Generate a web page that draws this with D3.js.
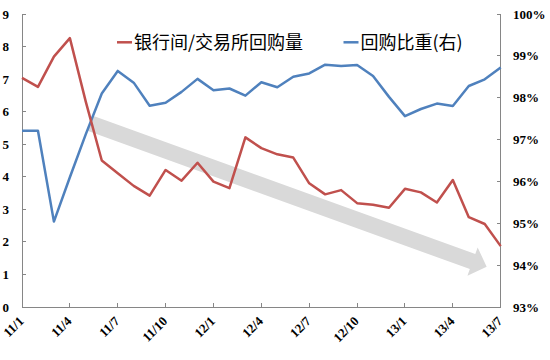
<!DOCTYPE html>
<html>
<head>
<meta charset="utf-8">
<script src="https://cdn.jsdelivr.net/npm/d3@7"></script>
<style>
    body { margin: 0; background: #fff; }
    svg { display: block; }
</style>
</head>
<body>
<svg id="chart" width="550" height="360"></svg>
<script>
// monthly categories, 2011/1 .. 2013/7
const categories = [
    "11/1", "11/2", "11/3", "11/4", "11/5", "11/6", "11/7", "11/8", "11/9", "11/10", "11/11", "11/12",
    "12/1", "12/2", "12/3", "12/4", "12/5", "12/6", "12/7", "12/8", "12/9", "12/10", "12/11", "12/12",
    "13/1", "13/2", "13/3", "13/4", "13/5", "13/6", "13/7",
]
const tickLabels = ["11/1", "11/4", "11/7", "11/10", "12/1", "12/4", "12/7", "12/10", "13/1", "13/4", "13/7"]

// 银行间/交易所回购量 (left axis)
const repoRatio = [
    7.04, 6.76, 7.69, 8.26, 6.30, 4.50, 4.11, 3.72, 3.42, 4.21, 3.88, 4.43,
    3.85, 3.65, 5.21, 4.88, 4.69, 4.59, 3.80, 3.46, 3.59, 3.19, 3.14, 3.05,
    3.63, 3.52, 3.21, 3.90, 2.76, 2.55, 1.87,
]
// 回购比重 (right axis, %)
const repoShare = [
    97.21, 97.21, 95.04, 96.10, 97.13, 98.10, 98.64, 98.36, 97.81, 97.88, 98.14, 98.45,
    98.18, 98.22, 98.05, 98.37, 98.25, 98.50, 98.58, 98.79, 98.76, 98.78, 98.52, 98.02,
    97.56, 97.73, 97.86, 97.80, 98.28, 98.44, 98.72,
]
const leftTicks = [0, 1, 2, 3, 4, 5, 6, 7, 8, 9]
const rightTicks = [93, 94, 95, 96, 97, 98, 99, 100]
const seriesNames = ["银行间/交易所回购量", "回购比重(右)"]

// trend arrow, in (category index, left-axis value)
const arrowFrom = [4.23, 5.65]
const arrowTo = [29.12, 1.24]

const red = "#c0504d"
const blue = "#4f81bd"
const axisColor = "#868686"
const labelFont = "'Liberation Serif', 'Times New Roman', serif"
const cjkFont = "'Noto Sans CJK SC', 'Noto Sans', sans-serif"

let plotLeft = 22, plotRight = 500.7, plotTop = 14, plotBottom = 307

let svg = d3.select("#chart")

let x = d3.scalePoint()
    .domain(categories)
    .range([plotLeft, plotRight])
let yLeft = d3.scaleLinear()
    .domain([0, 9])
    .range([plotBottom, plotTop])
let yRight = d3.scaleLinear()
    .domain([93, 100])
    .range([plotBottom, plotTop])

// Trend arrow (drawn first, lines go over it)
function arrowPath(from, to) {
    let x0 = x(categories[0]) + from[0] * x.step()
    let y0 = yLeft(from[1])
    let x1 = x(categories[0]) + to[0] * x.step()
    let y1 = yLeft(to[1])
    let len = Math.hypot(x1 - x0, y1 - y0)
    let ux = (x1 - x0) / len, uy = (y1 - y0) / len
    let px = -uy, py = ux
    let band = 8, head = 15, headLen = 15
    let bx = x1 - ux * headLen, by = y1 - uy * headLen
    let pts = [
        [x0 + px * band, y0 + py * band],
        [bx + px * band, by + py * band],
        [bx + px * head, by + py * head],
        [x1, y1],
        [bx - px * head, by - py * head],
        [bx - px * band, by - py * band],
        [x0 - px * band, y0 - py * band],
    ]
    return "M" + pts.map(p => p.join(",")).join("L") + "Z"
}
svg.append("path")
    .attr("d", arrowPath(arrowFrom, arrowTo))
    .attr("fill", "#d9d9d9")

// Axes
let axes = svg.append("g")
    .attr("stroke", axisColor)
    .attr("stroke-width", 1)
    .attr("shape-rendering", "crispEdges")
axes.append("line")
    .attr("x1", plotLeft).attr("x2", plotLeft).attr("y1", plotTop).attr("y2", plotBottom)
axes.append("line")
    .attr("x1", plotRight).attr("x2", plotRight).attr("y1", plotTop).attr("y2", plotBottom)
axes.append("line")
    .attr("x1", plotLeft).attr("x2", plotRight).attr("y1", plotBottom).attr("y2", plotBottom)
axes.selectAll("line.lt")
    .data(leftTicks)
    .join("line")
        .classed("lt", true)
        .attr("x1", plotLeft).attr("x2", plotLeft + 4)
        .attr("y1", d => yLeft(d)).attr("y2", d => yLeft(d))
axes.selectAll("line.rt")
    .data(rightTicks)
    .join("line")
        .classed("rt", true)
        .attr("x1", plotRight - 4).attr("x2", plotRight)
        .attr("y1", d => yRight(d)).attr("y2", d => yRight(d))
axes.selectAll("line.xt")
    .data(tickLabels)
    .join("line")
        .classed("xt", true)
        .attr("x1", d => x(d)).attr("x2", d => x(d))
        .attr("y1", plotBottom - 4).attr("y2", plotBottom)

let labels = svg.append("g")
    .attr("font-family", labelFont)
    .attr("font-weight", "bold")
    .attr("font-size", 13)
    .attr("fill", "#000")
labels.selectAll("text.ly")
    .data(leftTicks)
    .join("text")
        .classed("ly", true)
        .attr("x", 9)
        .attr("y", d => yLeft(d))
        .attr("dy", "0.35em")
        .attr("text-anchor", "end")
        .text(d => d)
labels.selectAll("text.ry")
    .data(rightTicks)
    .join("text")
        .classed("ry", true)
        .attr("x", 513)
        .attr("y", d => yRight(d))
        .attr("dy", "0.35em")
        .attr("text-anchor", "start")
        .text(d => d + "%")
labels.selectAll("text.xl")
    .data(tickLabels)
    .join("text")
        .classed("xl", true)
        .attr("text-anchor", "end")
        .attr("transform", d => `translate(${x(d) + 2.5},${plotBottom + 15}) rotate(-45)`)
        .text(d => d)

// Series lines
let lineLeft = d3.line()
    .x((d, i) => x(categories[i]))
    .y(d => yLeft(d))
let lineRight = d3.line()
    .x((d, i) => x(categories[i]))
    .y(d => yRight(d))
svg.append("path")
    .attr("d", lineRight(repoShare))
    .attr("fill", "none")
    .attr("stroke", blue)
    .attr("stroke-width", 2.5)
    .attr("stroke-linejoin", "round")
svg.append("path")
    .attr("d", lineLeft(repoRatio))
    .attr("fill", "none")
    .attr("stroke", red)
    .attr("stroke-width", 2.5)
    .attr("stroke-linejoin", "round")

// Legend
let legend = svg.append("g")
    .attr("font-family", cjkFont)
    .attr("font-size", 18)
let items = [
    {name: seriesNames[0], color: red, x: 117},
    {name: seriesNames[1], color: blue, x: 343.5},
]
let item = legend.selectAll("g")
    .data(items)
    .join("g")
        .attr("transform", d => `translate(${d.x},42.3)`)
item.append("line")
    .attr("x1", 0).attr("x2", 15)
    .attr("stroke", d => d.color)
    .attr("stroke-width", 2.5)
item.append("text")
    .attr("x", 17)
    .attr("dy", "0.38em")
    .attr("fill", "#000")
    .text(d => d.name)
</script>
</body>
</html>
